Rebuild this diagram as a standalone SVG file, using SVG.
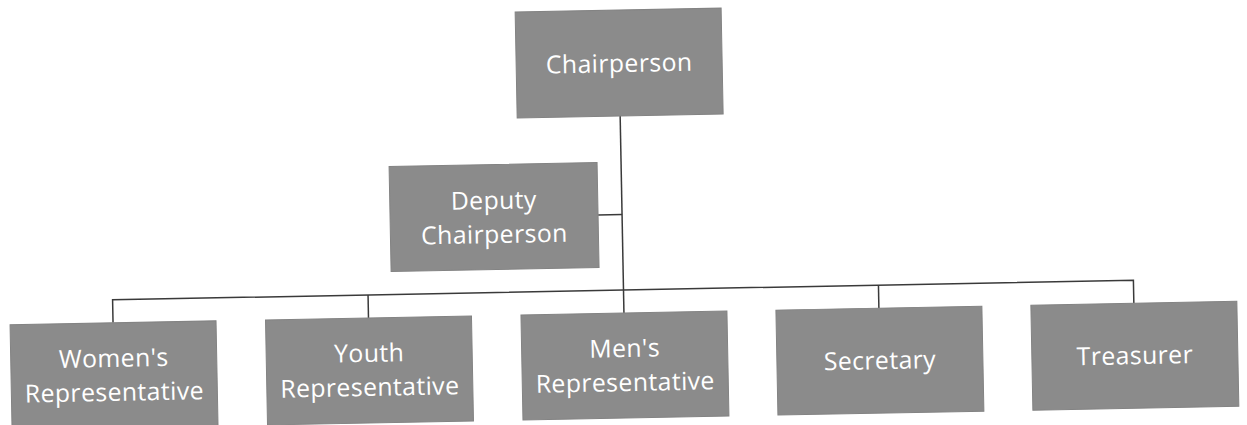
<svg xmlns="http://www.w3.org/2000/svg" width="1247" height="425" viewBox="0 0 1247 425">
<style>
.box{fill:#8b8b8b;stroke:#838383;stroke-width:1}
.lbl{font-family:"Open Sans","Noto Sans","DejaVu Sans",sans-serif;font-size:24.8px;letter-spacing:0.4px;fill:#ffffff;text-anchor:middle}
.conn{stroke:#3a3a3a;stroke-width:1.5;fill:none}
</style>
<rect width="1247" height="425" fill="#ffffff"/>
<g transform="rotate(-1.1 625 212)">
<g id="connectors">
<path class="conn" d="M622 116 V290"/>
<path class="conn" d="M598 214.5 H622"/>
<path class="conn" d="M111 313 V290 H1132 V313"/>
<path class="conn" d="M366.5 290 V313"/>
<path class="conn" d="M622 290 V313"/>
<path class="conn" d="M877 290 V313"/>
</g>
<g id="chairperson">
<rect class="box" x="519" y="10" width="206" height="106"/>
<text class="lbl" x="622" y="72">Chairperson</text>
</g>
<g id="deputy">
<rect class="box" x="390" y="162" width="208" height="105"/>
<text class="lbl" x="494" y="206.5">Deputy</text>
<text class="lbl" x="494" y="240.5">Chairperson</text>
</g>
<g id="womens">
<rect class="box" x="8" y="313" width="206" height="105"/>
<text class="lbl" x="111" y="357">Women's</text>
<text class="lbl" x="111" y="391">Representative</text>
</g>
<g id="youth">
<rect class="box" x="263.5" y="313" width="206" height="105"/>
<text class="lbl" x="366.5" y="357">Youth</text>
<text class="lbl" x="366.5" y="391">Representative</text>
</g>
<g id="mens">
<rect class="box" x="519" y="313" width="206" height="105"/>
<text class="lbl" x="622" y="357">Men's</text>
<text class="lbl" x="622" y="391">Representative</text>
</g>
<g id="secretary">
<rect class="box" x="774" y="313" width="206" height="105"/>
<text class="lbl" x="877" y="374">Secretary</text>
</g>
<g id="treasurer">
<rect class="box" x="1029" y="313" width="206" height="105"/>
<text class="lbl" x="1132" y="374">Treasurer</text>
</g>
</g>
</svg>
